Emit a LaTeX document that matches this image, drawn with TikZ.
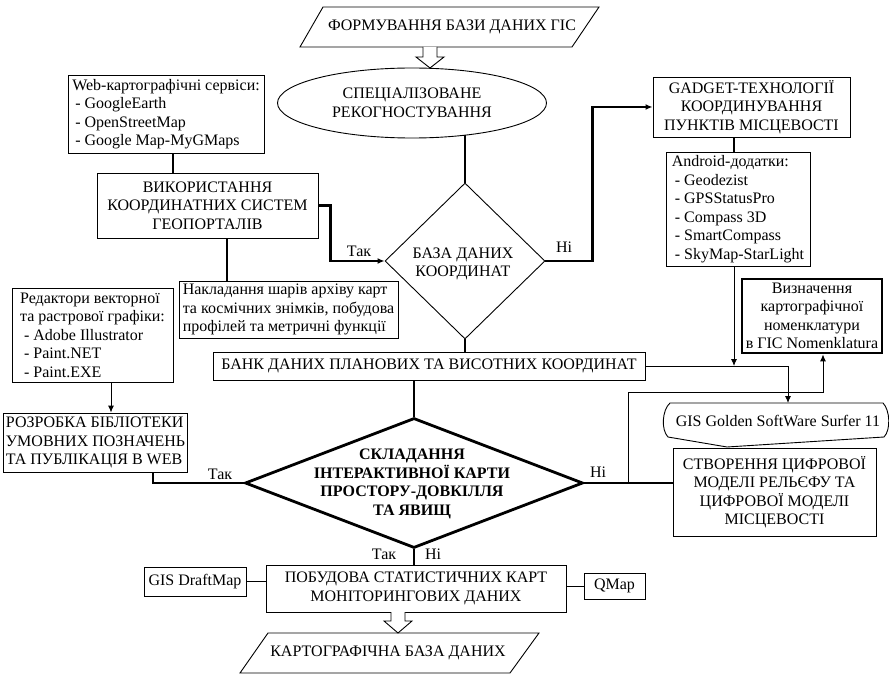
\documentclass[tikz,border=0pt]{standalone}
\usepackage{fontspec}
\setmainfont{Liberation Serif}
\usetikzlibrary{shapes.geometric,arrows.meta,calc}
\newcommand\fs{\fontsize{16}{18.5}\selectfont}
\begin{document}
\begin{tikzpicture}[x=1pt,y=-1pt,
  box/.style={draw, line width=0.9pt, inner sep=2pt, align=center, font=\fs},
  lbox/.style={box, align=left},
  thk/.style={line width=2.8pt},
  thn/.style={line width=0.9pt},
  arr/.style={-{Latex[length=7pt,width=6pt]}},
  lbl/.style={font=\fs, inner sep=0pt},
  hollow/.style={draw, line width=0.9pt, fill=white}]
\useasboundingbox (0,0) rectangle (889,676);

% start parallelogram
\draw[thn] (323,7) -- (599,7) -- (572,47) -- (300,47) -- cycle;
\node[lbl] (start) at (452,27) {ФОРМУВАННЯ БАЗИ ДАНИХ ГІС};

% ellipse
\node[draw, ellipse, line width=0.9pt, minimum width=269pt, minimum height=70pt, inner sep=0pt, font=\fs, align=center] (e1) at (412,103) {СПЕЦІАЛІЗОВАНЕ\\РЕКОГНОСТУВАННЯ};

% hollow arrow top
\draw[hollow] (423,47) -- (423,57) -- (416,57) -- (430,68) -- (444,57) -- (437,57) -- (437,47);

% diamond 1
\node[draw, diamond, line width=0.9pt, minimum width=160pt, minimum height=156pt, inner sep=0pt] (d1) at (465,261) {};
\node[lbl, align=center] (d1t) at (463,264) {БАЗА ДАНИХ\\КООРДИНАТ};

% boxes
\node[lbox, minimum width=196pt, minimum height=78pt] (web) at (166,114) {Web-картографічні сервіси:\\\hspace*{3pt}- GoogleEarth\\\hspace*{3pt}- OpenStreetMap\\\hspace*{3pt}- Google Map-MyGMaps};
\node[box, minimum width=221pt, minimum height=65pt] (use) at (207.5,205.5) {ВИКОРИСТАННЯ\\КООРДИНАТНИХ СИСТЕМ\\ГЕОПОРТАЛІВ};
\node[lbox, minimum width=219pt, minimum height=57pt, inner xsep=1pt] (nak) at (288.5,309.5) {Накладання шарів архіву карт\\та космічних знімків, побудова\\профілей та метричні функції};
\node[lbox, minimum width=161pt, minimum height=94pt] (red) at (92.5,335) {Редактори векторної\\та растрової графіки:\\\hspace*{4pt}- Adobe Illustrator\\\hspace*{4pt}- Paint.NET\\\hspace*{4pt}- Paint.EXE};
\node[lbox, minimum width=181pt, minimum height=59pt] (roz) at (95.5,442.5) {РОЗРОБКА БІБЛІОТЕКИ\\УМОВНИХ ПОЗНАЧЕНЬ\\ТА ПУБЛІКАЦІЯ В WEB};
\node[box, minimum width=197pt, minimum height=60pt] (gad) at (751.5,107) {GADGET-ТЕХНОЛОГІЇ\\КООРДИНУВАННЯ\\ПУНКТІВ МІСЦЕВОСТІ};
\node[lbox, minimum width=144pt, minimum height=114pt] (and) at (738,209) {Android-додатки:\\\hspace*{3pt}- Geodezist\\\hspace*{3pt}- GPSStatusPro\\\hspace*{3pt}- Compass 3D\\\hspace*{3pt}- SmartCompass\\\hspace*{3pt}- SkyMap-StarLight};
\node[box, line width=2.8pt, minimum width=140pt, minimum height=74pt] (nom) at (812,316) {Визначення\\картографічної\\номенклатури\\в ГІС Nomenklatura};
\node[box, minimum width=432pt, minimum height=28pt] (bank) at (429,366) {БАНК ДАНИХ ПЛАНОВИХ ТА ВИСОТНИХ КООРДИНАТ};
\node[box, minimum width=203pt, minimum height=88pt] (stv) at (774.5,492) {СТВОРЕННЯ ЦИФРОВОЇ\\МОДЕЛІ РЕЛЬЄФУ ТА\\ЦИФРОВОЇ МОДЕЛІ\\МІСЦЕВОСТІ};
\node[box, minimum width=300pt, minimum height=47pt] (pob) at (416,588.5) {ПОБУДОВА СТАТИСТИЧНИХ КАРТ\\МОНІТОРИНГОВИХ ДАНИХ};
\node[box, minimum width=102pt, minimum height=29pt] (draft) at (195,581.5) {GIS DraftMap};
\node[box, minimum width=61pt, minimum height=26pt] (qmap) at (614.5,586) {QMap};

% GIS Golden shape
\draw[thn] (670,403) -- (883,403) .. controls (890,410) and (891,430) .. (884,437) -- (727,447) -- (668,437) .. controls (661,430) and (662,410) .. (670,403) -- cycle;
\node[lbl] (gis) at (778,421) {GIS Golden SoftWare Surfer 11};
\coordinate (gistop) at (788,403);

% big diamond
\node[draw, diamond, line width=2.8pt, minimum width=338pt, minimum height=130pt, inner sep=0pt] (d2) at (414,483) {};
\node[lbl, align=center, font=\fs\bfseries] (d2t) at (412,484) {СКЛАДАННЯ\\ІНТЕРАКТИВНОЇ КАРТИ\\ПРОСТОРУ-ДОВКІЛЛЯ\\ТА ЯВИЩ};

% end parallelogram
\draw[thn] (268,633) -- (539,633) -- (510,673) -- (240,673) -- cycle;
\node[lbl] (endp) at (388,653) {КАРТОГРАФІЧНА БАЗА ДАНИХ};

% hollow arrow bottom
\draw[hollow] (391,612) -- (391,621) -- (384,621) -- (398,633) -- (412,621) -- (405,621) -- (405,612);

% connectors
\draw[thk] (d1.north) -- (d1.north |- e1.-31);
\draw[thk] ([xshift=7pt]web.south) -- ([xshift=7pt]web.south |- use.north);
\draw[thk,arr] (use.east) -- ++(12,0) |- (d1.west);
\draw[thk] ([xshift=19.5pt]use.south) -- ([xshift=19.5pt]use.south |- nak.north);
\draw[thk,arr] (d1.east) -- ++(47,0) |- (gad.west);
\draw[thk] ([xshift=-17.5pt]gad.south) -- ([xshift=-17.5pt]gad.south |- and.north);
\draw[thn,arr] ([xshift=-4pt]and.south) -- ([xshift=-4pt]and.south |- bank.east);
\draw[thn,arr] (bank.east) -| (gistop);
\draw[thk] (d1.south) -- (d1.south |- bank.north);
\draw[thk] (d2.north |- bank.south) -- (d2.north);
\draw[thk] (d2.east) -- (d2.east -| stv.west);
\coordinate (j1) at (628,483);
\coordinate (j2) at (628,392);
\draw[thn,arr] (j1) -- (j2) -| ([xshift=11pt]nom.south);
\draw[thk] (d2.west) -| ([xshift=57.5pt]roz.south);
\draw[thn,arr] ([xshift=18.5pt]red.south) -- ([xshift=18.5pt]red.south |- roz.north);
\draw[thk] (d2.south) -- (d2.south |- pob.north);
\draw[thn] (draft.east) -- (draft.east -| pob.west);
\draw[thn] (qmap.west) -- (qmap.west -| pob.east);

% labels
\node[lbl] (l1) at (359,251) {Так};
\node[lbl] (l2) at (564,247) {Ні};
\node[lbl] (l3) at (220,474) {Так};
\node[lbl] (l4) at (598,472) {Ні};
\node[lbl] (l5) at (384,554) {Так};
\node[lbl] (l6) at (433,554) {Ні};
\end{tikzpicture}
\end{document}
